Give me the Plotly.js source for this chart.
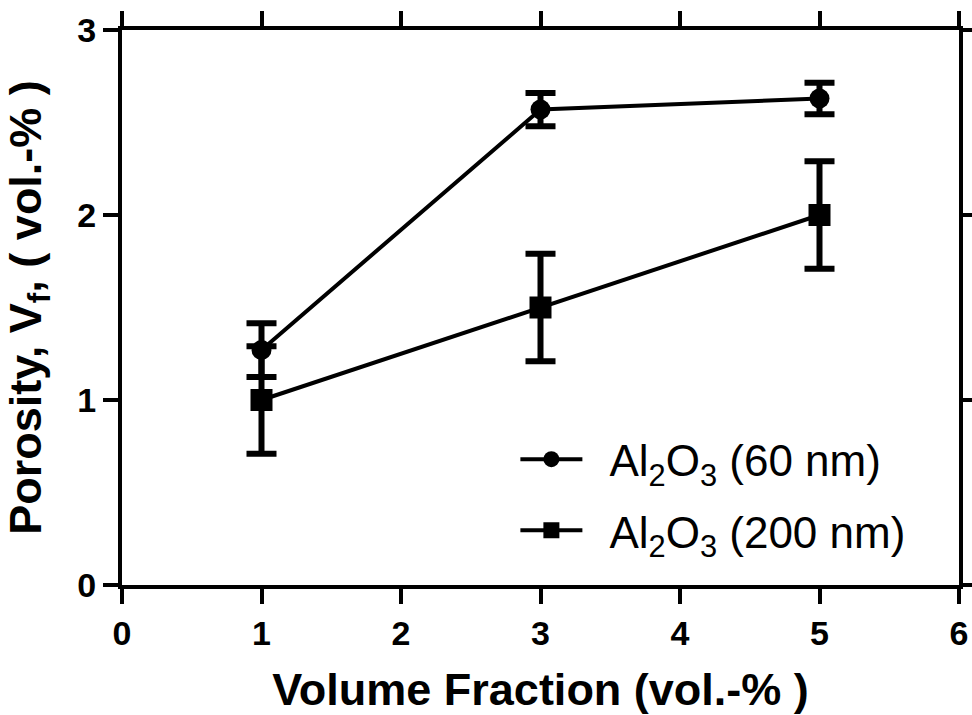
<!DOCTYPE html>
<html>
<head>
<meta charset="utf-8">
<script src="https://cdn.plot.ly/plotly-3.0.1.min.js"></script>
<style>html,body{margin:0;padding:0;background:#fff;}#chart{width:972px;height:715px;}</style>
</head>
<body>
<div id="chart"></div>
<script>
const volumeFraction = [1, 3, 5];
const porosity60 = [1.27, 2.57, 2.63];
const err60 = [0.145, 0.09, 0.085];
const porosity200 = [1.0, 1.5, 2.0];
const err200 = [0.29, 0.29, 0.29];
const seriesNames = ['Al<sub>2</sub>O<sub>3</sub> (60 nm)', 'Al<sub>2</sub>O<sub>3</sub> (200 nm)'];
const xTicks = [0, 1, 2, 3, 4, 5, 6];
const yTicks = [0, 1, 2, 3];

const FONT = 'Liberation Sans, Arial, sans-serif';

const traces = [
  {
    x: volumeFraction, y: porosity200, name: '\u2002' + seriesNames[1],
    type: 'scatter', mode: 'lines+markers',
    line: {color: '#000', width: 4},
    marker: {symbol: 'square', size: 22, color: '#000'},
    error_y: {type: 'data', array: err200, visible: true, color: '#000', thickness: 6, width: 15},
    legendgroup: 'b', legendrank: 2
  },
  {
    x: volumeFraction, y: porosity60, name: '\u2002' + seriesNames[0],
    type: 'scatter', mode: 'lines+markers',
    line: {color: '#000', width: 4},
    marker: {symbol: 'circle', size: 20, color: '#000'},
    error_y: {type: 'data', array: err60, visible: true, color: '#000', thickness: 6, width: 15},
    legendgroup: 'a', legendrank: 1
  }
];

const axisCommon = {
  showgrid: false, zeroline: false,
  showline: true, linecolor: '#000', linewidth: 4,
  mirror: 'ticks', ticks: 'outside', ticklen: 15, tickwidth: 4, tickcolor: '#000',
  tickfont: {family: FONT, size: 34, color: '#000', weight: 'bold'}
};

const layout = {
  width: 972, height: 715,
  margin: {l: 122, r: 13, t: 30, b: 130},
  paper_bgcolor: '#fff', plot_bgcolor: '#fff',
  showlegend: true,
  legend: {
    x: 0.47, xanchor: 'left', y: 0.29, yanchor: 'top',
    bgcolor: 'rgba(0,0,0,0)', borderwidth: 0,
    traceorder: 'grouped', tracegroupgap: 11, itemwidth: 62,
    font: {family: FONT, size: 44, color: '#000'}
  },
  xaxis: Object.assign({}, axisCommon, {
    range: [0, 6], tickvals: xTicks, ticktext: xTicks.map(String),
    title: {text: 'Volume Fraction (vol.-% )', standoff: 26,
            font: {family: FONT, size: 45, color: '#000', weight: 'bold'}}
  }),
  yaxis: Object.assign({}, axisCommon, {
    range: [0, 3], tickvals: yTicks, ticktext: yTicks.map(String),
    title: {text: 'Porosity, V<sub>f</sub>, ( vol.-% )', standoff: 24,
            font: {family: FONT, size: 45, color: '#000', weight: 'bold'}}
  })
};

Plotly.newPlot('chart', traces, layout, {displayModeBar: false, staticPlot: true});
</script>
</body>
</html>
